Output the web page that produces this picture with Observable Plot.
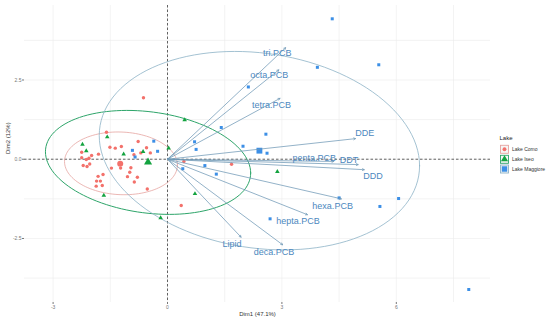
<!DOCTYPE html>
<html><head><meta charset="utf-8">
<script src="https://cdn.jsdelivr.net/npm/d3@7"></script>
<script src="https://cdn.jsdelivr.net/npm/@observablehq/plot@0.6"></script>
<style>
body{margin:0;background:#fff;font-family:Arial,"Liberation Sans",sans-serif}
#wrap{position:relative;width:550px;height:322px;overflow:hidden}
#legend{position:absolute;left:498px;top:132px}
</style></head><body><div id="wrap"></div>
<script>
// ---- data ----
const groups = ["Lake Como", "Lake Iseo", "Lake Maggiore"];
const groupColors = ["#F3716B", "#13A33F", "#3C8FE6"];
const ellipseColors = ["#E6A4A1", "#2EA56A", "#8DB2C6"];

const comoX = [-0.63,-1.60,-0.77,-1.51,-1.37,-1.21,-0.55,-0.70,-0.45,-0.88,-2.25,-2.25,-2.13,-1.99,-2.06,-1.81,-2.21,-2.04,-2.11,-1.23,-1.47,-0.96,-0.99,-1.05,-0.79,-1.82,-1.69,-1.86,-1.76,-1.87,-1.71,-0.87,-0.53,0.43,0.36,1.68];
const comoY = [1.94,0.85,0.56,0.38,0.35,0.40,0.36,0.20,0.20,0.14,0.22,0.05,-0.01,0.12,0.03,0.16,-0.20,-0.15,-0.23,-0.28,-0.28,-0.27,-0.41,-0.55,-0.57,-0.54,-0.48,-0.69,-0.69,-0.85,-0.83,-0.72,-0.94,-0.07,-1.46,-0.16];

const iseoX = [0.45,-1.58,-2.23,-2.13,-1.15,-0.64,0.03,2.88,0.72,-1.67,-0.18];
const iseoY = [1.24,0.70,0.47,0.26,0.16,0.24,0.35,-0.39,-1.09,-1.14,-1.85];

const maggioreX = [4.32,5.54,3.93,2.12,1.41,2.58,0.71,1.98,0.75,2.61,-0.36,-0.26,-0.92,-0.85,0.98,0.40,1.28,4.50,6.06,5.57,2.69,7.90];
const maggioreY = [4.43,2.98,2.90,2.28,1.00,0.79,0.55,0.41,0.31,0.19,0.57,0.25,0.28,0.07,-0.20,-0.30,-0.47,-1.22,-1.24,-1.49,-1.88,-4.11];

const meanX = [-1.24, -0.51, 2.41];
const meanY = [-0.14, -0.09, 0.27];

// concentration ellipses: centre and covariance-like terms
const ellCx = [-1.22, -0.51, 2.41];
const ellCy = [-0.13, -0.10, 0.27];
const ellSxx = [2.19, 7.24, 17.64];
const ellSxy = [-0.08, -0.90, -2.00];
const ellSyy = [0.98, 2.69, 9.80];

const varNames = ["tri.PCB","octa.PCB","tetra.PCB","DDE","penta.PCB","DDT","DDD","hexa.PCB","hepta.PCB","Lipid","deca.PCB"];
const varX = [3.10, 2.92, 2.95, 4.93, 4.36, 5.00, 5.16, 4.56, 3.67, 1.93, 3.02];
const varY = [3.52, 2.82, 1.92, 0.65, -0.07, -0.17, -0.33, -1.25, -1.75, -2.46, -2.70];
const labelX = [2.88, 2.67, 2.73, 5.17, 3.85, 4.76, 5.39, 4.33, 3.42, 1.69, 2.79];
const labelY = [3.35, 2.65, 1.72, 0.82, 0.03, -0.02, -0.52, -1.49, -1.96, -2.68, -2.94];

const xTicks = [-3, 0, 3, 6];
const yTicks = [-2.5, 0, 2.5];
const xMinor = [-1.5, 1.5, 4.5, 7.5];
const yMinor = [-3.75, -1.25, 1.25, 3.75];

// ---- build tables ----
const pts = (xs, ys) => xs.map((x, i) => ({x, y: ys[i]}));
const como = pts(comoX, comoY), iseo = pts(iseoX, iseoY), maggiore = pts(maggioreX, maggioreY);
const means = groups.map((g, i) => ({group: g, x: meanX[i], y: meanY[i]}));
const vars = varNames.map((n, i) => ({name: n, x: varX[i], y: varY[i], lx: labelX[i], ly: labelY[i]}));

function ellipse(i) {
  const l11 = Math.sqrt(ellSxx[i]), l21 = ellSxy[i] / l11, l22 = Math.sqrt(ellSyy[i] - l21 * l21);
  return d3.range(0, 121).map(k => {
    const t = 2 * Math.PI * k / 120;
    return {x: ellCx[i] + l11 * Math.cos(t), y: ellCy[i] + l21 * Math.cos(t) + l22 * Math.sin(t)};
  });
}

const symbols = ["circle", "triangle", "square"];
const gridStyle = {stroke: "#ebebeb", strokeOpacity: 1, strokeWidth: 0.6};

const chart = Plot.plot({
  width: 550, height: 322,
  marginLeft: 24, marginRight: 60, marginTop: 5, marginBottom: 20,
  style: {fontFamily: "Arial, 'Liberation Sans', sans-serif", background: "white"},
  x: {domain: [-3.75, 8.47], label: null},
  y: {domain: [-4.52, 4.85], label: null},
  marks: [
    Plot.gridX(xMinor, gridStyle),
    Plot.gridX(xTicks, gridStyle),
    Plot.gridY(yMinor, gridStyle),
    Plot.gridY(yTicks, gridStyle),
    Plot.ruleY([0], {stroke: "#222", strokeWidth: 0.7, strokeDasharray: "2.5,2"}),
    Plot.ruleX([0], {stroke: "#222", strokeWidth: 0.7, strokeDasharray: "2.5,2"}),
    ...groups.map((g, i) => Plot.line(ellipse(i), {x: "x", y: "y", stroke: ellipseColors[i], strokeWidth: i === 1 ? 1 : 0.8, curve: "linear-closed"})),
    Plot.dot(como, {x: "x", y: "y", symbol: "circle", r: 1.7, fill: groupColors[0]}),
    Plot.dot(iseo, {x: "x", y: "y", symbol: "triangle", r: 1.7, fill: groupColors[1]}),
    Plot.dot(maggiore, {x: "x", y: "y", symbol: "square", r: 1.7, fill: groupColors[2]}),
    Plot.dot(means, {x: "x", y: "y", symbol: (d, i) => symbols[i], r: (d, i) => [2.8, 2.8, 3.4][i], fill: (d, i) => groupColors[i]}),
    Plot.arrow(vars, {x1: () => 0, y1: () => 0, x2: "x", y2: "y", stroke: "#6F98B5", strokeWidth: 0.75, headLength: 4, headAngle: 55}),
    Plot.text(vars, {x: "lx", y: "ly", text: "name", fill: "#4C88BE", fontSize: 9}),
    Plot.axisX(xTicks, {tickFormat: d => String(d), tickSize: 2, tickPadding: 1, fontSize: 5, color: "#777", label: null}),
    Plot.axisY(yTicks, {tickFormat: d => d.toFixed(1), tickSize: 2, tickPadding: 1, fontSize: 5, color: "#777", label: null}),
    Plot.text(["Dim1 (47.1%)"], {frameAnchor: "bottom", dy: 13, fontSize: 6, fill: "#333"}),
    Plot.text(["Dim2 (12%)"], {frameAnchor: "left", rotate: -90, dx: -16, fontSize: 6, fill: "#333"})
  ]
});
document.getElementById("wrap").appendChild(chart);

// ---- legend ----
const leg = d3.select("#wrap").append("svg").attr("id", "legend").attr("width", 52).attr("height", 45)
  .style("font-family", "Arial, 'Liberation Sans', sans-serif");
leg.append("text").attr("x", 1.5).attr("y", 8.3).attr("font-size", 6).attr("fill", "#222").text("Lake");
groups.forEach((g, i) => {
  const cy = [17.3, 27.3, 37][i];
  leg.append("rect").attr("x", 2.5).attr("y", cy - 4).attr("width", 8).attr("height", 8)
    .attr("fill", "#f6f6f6").attr("stroke", ellipseColors[i]).attr("stroke-width", 0.9);
  leg.append("path").attr("transform", `translate(6.5,${cy})`)
    .attr("d", d3.symbol(d3[["symbolCircle","symbolTriangle","symbolSquare"][i]], [12, 22, 30][i])())
    .attr("fill", groupColors[i]);
  leg.append("text").attr("x", 14).attr("y", cy + 1.8).attr("font-size", 5).attr("fill", "#333").text(g);
});
</script>
</body></html>
